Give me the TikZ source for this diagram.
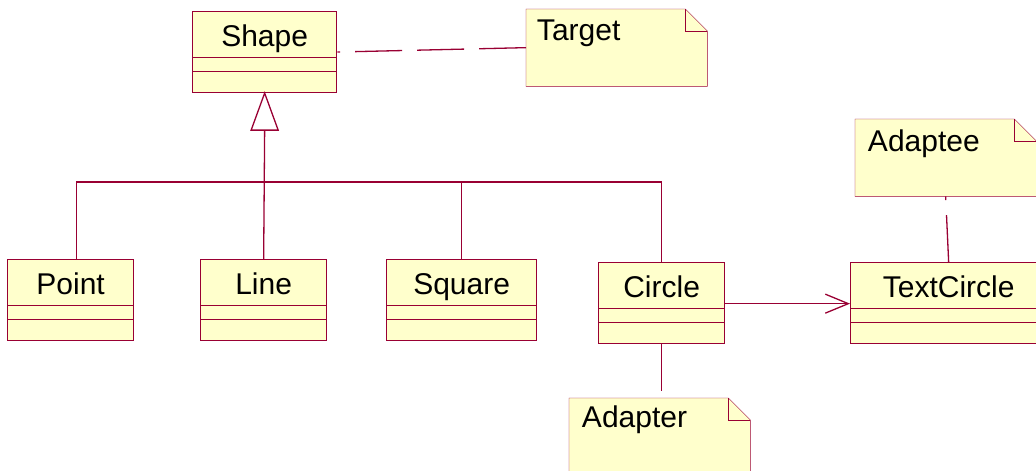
\documentclass[tikz,border=0pt]{standalone}
\usepackage{fontspec}
\setmainfont{Liberation Sans}
\usetikzlibrary{shapes.multipart,arrows.meta,backgrounds}
\definecolor{umlred}{RGB}{153,0,51}
\definecolor{umlyellow}{RGB}{255,255,204}

\begin{document}
\begin{tikzpicture}[x=1pt,y=-1pt,line width=1.3pt,
    uml/.style={draw=umlred},
    cls/.style={uml,fill=umlyellow,rectangle split,rectangle split parts=3,
        inner xsep=0pt,inner ysep=0pt,anchor=north west,
        font=\fontsize{30}{36}\selectfont},
    notebox/.style={anchor=north west,minimum width=180pt,minimum height=76pt,inner sep=0pt},
    notetext/.style={anchor=base west,font=\fontsize{30}{36}\selectfont},
    anchorline/.style={uml,dash pattern=on 47pt off 15pt}]
    \useasboundingbox (0,0) rectangle (1036,471);
    % classes
    \foreach \n/\t/\x/\y/\w in {shape/Shape/192/11/144, point/Point/7/259/126,
            line/Line/200/259/126, square/Square/386/259/150,
            circle/Circle/598/262/126, textcircle/TextCircle/850/262/196}{
        \node[cls,minimum width=\w pt] (\n) at (\x,\y)
            {\rule[-10.5pt]{0pt}{44.7pt}\t\nodepart{two}\rule{0pt}{12.7pt}\nodepart{three}\rule{0pt}{19.5pt}};
    }
    % notes
    \node[notebox] (target) at (526,9) {};
    \node[notebox] (adaptee) at (855,119) {};
    \node[notebox] (adapter) at (569,398) {};
    \node[notetext] (target-t) at ([xshift=7pt,yshift=-31pt]target.north west) {Target};
    \node[notetext] (adaptee-t) at ([xshift=9pt,yshift=-32pt]adaptee.north west) {Adaptee};
    \node[notetext] (adapter-t) at ([xshift=9pt,yshift=-29pt]adapter.north west) {Adapter};
    \begin{scope}[on background layer]
        \foreach \n in {target,adaptee,adapter}{
            \draw[uml,fill=umlyellow] (\n.north west) -- ([xshift=-22pt]\n.north east)
                -- ([yshift=-22pt]\n.north east) -- (\n.south east) -- (\n.south west) -- cycle;
            \draw[uml] ([xshift=-22pt]\n.north east) |- ([yshift=-22pt]\n.north east);
        }
    \end{scope}
    % generalisation
    \coordinate (joint) at (262,182);
    \draw[uml] (shape.south) -- ++(-13.5,37) -- ++(27,0) -- cycle;
    \draw[uml] (shape.south) ++(0,37) -- (line.north);
    \draw[uml] ([xshift=6pt]point.north) |- (joint) -| (circle.north);
    \draw[uml] (square.north) -- (square.north |- joint);
    % association
    \draw[uml,-{Straight Barb[length=23pt,width=19pt]}] ([yshift=5pt]circle.text split east)
        -- ([yshift=5pt]circle.text split east -| textcircle.west);
    % note links
    \draw[anchorline] (target.west) -- (shape.east);
    \draw[anchorline] (textcircle.north) -- (adaptee.south);
    \draw[anchorline] (circle.south) -- (adapter.north -| circle.south);
\end{tikzpicture}
\end{document}
